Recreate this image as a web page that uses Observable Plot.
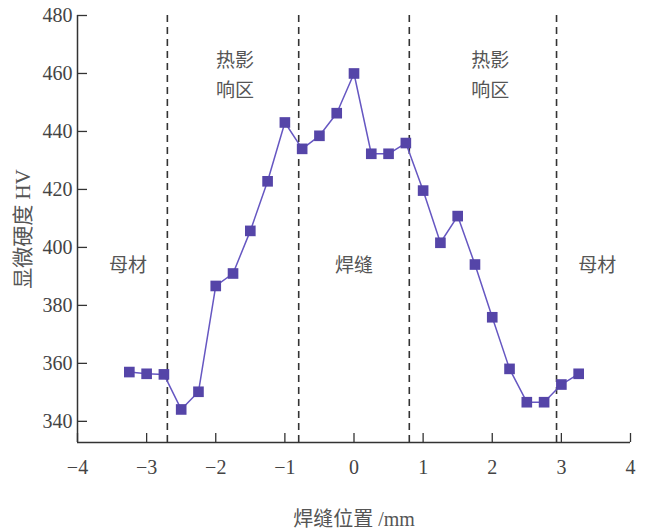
<!DOCTYPE html>
<html>
<head>
<meta charset="utf-8">
<script src="https://cdn.jsdelivr.net/npm/d3@7"></script>
<script src="https://cdn.jsdelivr.net/npm/@observablehq/plot@0.6"></script>
<style>
  html, body { margin: 0; padding: 0; background: #fff; }
  #chart svg { display: block; }
</style>
</head>
<body>
<div id="chart"></div>
<script>
// Measurement positions (mm) and microhardness (HV)
const positions = [-3.25, -3.0, -2.75, -2.5, -2.25, -2.0, -1.75, -1.5, -1.25, -1.0, -0.75, -0.5, -0.25, 0,
  0.25, 0.5, 0.75, 1.0, 1.25, 1.5, 1.75, 2.0, 2.25, 2.5, 2.75, 3.0, 3.25];
const hardness = [357.0, 356.4, 356.2, 344.1, 350.2, 386.7, 391.0, 405.7, 422.8, 443.1, 434.0, 438.5, 446.3, 460.0,
  432.3, 432.3, 436.0, 419.6, 401.6, 410.8, 394.1, 375.9, 358.1, 346.6, 346.6, 352.7, 356.4];

// Zone boundaries (mm)
const boundaries = [-2.7, -0.8, 0.8, 2.93];

// Zone labels
const zoneNames = ["母材", "热影\n响区", "焊缝", "热影\n响区", "母材"];
const zoneX = [-3.27, -1.72, 0.0, 1.97, 3.52];
const zoneY = [394.8, 460.3, 394.8, 460.3, 394.8];

// Axis ticks
const xTicks = [-4, -3, -2, -1, 0, 1, 2, 3, 4];
const yTicks = [340, 360, 380, 400, 420, 440, 460, 480];
const xDomain = [-4, 4];
const yDomain = [332.7, 480];

const xTitle = "焊缝位置 /mm";
const yTitle = "显微硬度 HV";

const data = positions.map((x, i) => ({x, y: hardness[i]}));
const zones = zoneNames.map((t, i) => ({t, x: zoneX[i], y: zoneY[i]}));

const serif = "'Liberation Serif', 'Noto Sans CJK SC', serif";
const cjk = "'Noto Sans CJK SC', sans-serif";
const axisColor = "#333";
const textColor = "#444";

const chart = Plot.plot({
  width: 647,
  height: 531,
  marginLeft: 77,
  marginRight: 17,
  marginTop: 15,
  marginBottom: 89,
  style: {background: "#fff", fontFamily: serif},
  x: {domain: xDomain, label: null},
  y: {domain: yDomain, label: null},
  marks: [
    // axis lines
    Plot.ruleX([xDomain[0]], {stroke: axisColor, strokeWidth: 1.5}),
    Plot.ruleY([yDomain[0]], {stroke: axisColor, strokeWidth: 1.5}),
    // inward ticks + labels
    Plot.axisX({ticks: xTicks, tickSize: -9, tickPadding: 26, stroke: axisColor, strokeWidth: 1.3,
      fontSize: 20, fill: textColor, fontFamily: serif, label: null}),
    Plot.axisY({ticks: yTicks, tickSize: -10, tickPadding: 15, stroke: axisColor, strokeWidth: 1.3,
      fontSize: 20, fill: textColor, fontFamily: serif, label: null}),
    // zone boundaries
    Plot.ruleX(boundaries, {stroke: "#333", strokeWidth: 1.6, strokeDasharray: "7,5"}),
    // zone labels
    Plot.text(zones, {x: "x", y: "y", text: "t", fontSize: 19, fill: "#555", fontFamily: cjk, lineHeight: 1.58}),
    // data
    Plot.line(data, {x: "x", y: "y", stroke: "#6657c2", strokeWidth: 1.5}),
    Plot.dot(data, {x: "x", y: "y", symbol: "square", r: 6, fill: "#5545a8", stroke: "none"}),
    // axis titles
    Plot.text([xTitle], {frameAnchor: "bottom", dy: 77, lineAnchor: "middle", textAnchor: "middle",
      fontSize: 20, fill: "#555", fontFamily: serif}),
    Plot.text([yTitle], {frameAnchor: "left", dx: -54, rotate: -90, textAnchor: "middle", lineAnchor: "middle",
      fontSize: 21, fill: "#555", fontFamily: serif})
  ]
});

document.getElementById("chart").appendChild(chart);
</script>
</body>
</html>
